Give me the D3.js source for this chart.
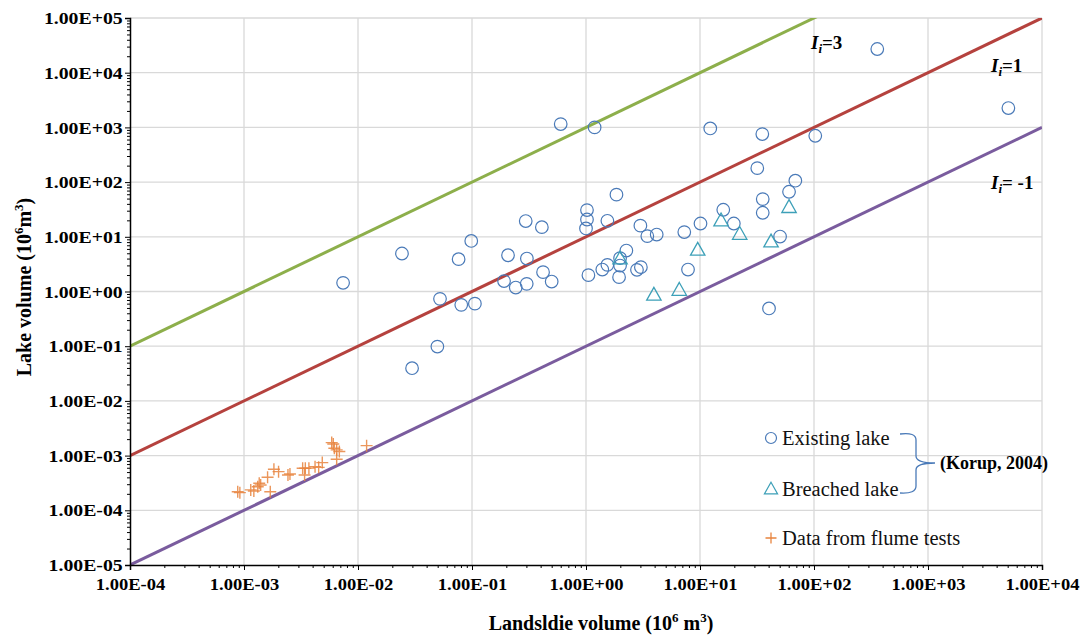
<!DOCTYPE html>
<html>
<head>
<meta charset="utf-8">
<script src="https://cdn.jsdelivr.net/npm/d3@7"></script>
<style>
  html, body { margin: 0; padding: 0; background: #fff; }
  svg { display: block; }
  svg text { font-family: "Liberation Serif", "Times New Roman", serif; }
</style>
</head>
<body>
<svg id="chart" width="1080" height="636"></svg>
<script>
// ---------------- DATA ----------------
// Existing lake (Korup, 2004): [landslide volume, lake volume] in 10^6 m^3
const existingLandslide = [0.0074, 0.0243, 0.0298, 0.0497, 0.0524, 0.0763, 0.0805, 0.0985, 0.106, 0.191,
  0.207, 0.242, 0.296, 0.302, 0.303, 0.41, 0.42, 0.50, 0.60, 1.02,
  1.02, 1.0, 1.05, 1.19, 1.39, 1.54, 1.54, 1.85, 1.95, 1.99,
  1.99, 2.26, 2.80, 3.03, 3.0, 3.45, 4.17, 7.28, 7.85, 10.1,
  12.3, 16.0, 19.8, 31.8, 35.2, 35.5, 35.5, 40.3, 50.4, 60.4,
  68.6, 102.6, 359, 5070];
const existingLake = [1.44, 4.95, 0.0396, 0.0984, 0.734, 3.9, 0.57, 8.4, 0.60, 1.55,
  4.6, 1.18, 19.4, 1.38, 4.0, 15, 2.26, 1.52, 1150, 30.8,
  20.7, 14.2, 1.99, 1000, 2.52, 3.07, 19.6, 59, 1.83, 2.98,
  4.07, 5.6, 2.49, 2.79, 16, 10.3, 11.0, 12.2, 2.52, 17.5,
  957, 31.2, 17.5, 180, 755, 48.9, 27.5, 0.49, 10.1, 66.6,
  106, 703, 27100, 2260];

// Breached lake (Korup, 2004)
const breachedLandslide = [1.99, 3.94, 6.58, 9.55, 15.3, 22.3, 42, 60.4];
const breachedLake = [4.0, 0.87, 1.07, 5.78, 19.9, 11.3, 8.2, 34.9];

// Data from flume tests
const flumeLandslide = [0.000881, 0.00092, 0.001146, 0.00122, 0.00132, 0.00136, 0.0014, 0.0017, 0.00161, 0.00183,
  0.00201, 0.00243, 0.00253, 0.00327, 0.00345, 0.0034, 0.00371, 0.0042, 0.00452, 0.00486,
  0.00588, 0.00607, 0.0062, 0.0065, 0.00686, 0.0065, 0.0119];
const flumeLake = [0.000219, 0.00021, 0.000236, 0.000226, 0.00027, 0.000312, 0.00029, 0.000219, 0.000402, 0.000562,
  0.000509, 0.000443, 0.000461, 0.000587, 0.000587, 0.000443, 0.00059, 0.000628, 0.00061, 0.000745,
  0.00173, 0.00163, 0.00136, 0.00127, 0.00119, 0.000857, 0.00152];

// Index lines: lake = landslide * 10^I
const indexValues = [3, 1, -1];
const indexLabels = ["=3", "=1", "= -1"];
const indexColors = ["#8DAF4B", "#B5423E", "#7A5C9E"];

// Axis ticks
const xTickValues = [1e-4, 1e-3, 1e-2, 1e-1, 1e0, 1e1, 1e2, 1e3, 1e4];
const yTickValues = [1e-5, 1e-4, 1e-3, 1e-2, 1e-1, 1e0, 1e1, 1e2, 1e3, 1e4, 1e5];

const legendLabels = ["Existing lake", "Breached lake", "Data from flume tests"];
const sourceLabel = "(Korup, 2004)";

// ---------------- CHART ----------------
const FONT = "'Liberation Serif', 'Times New Roman', serif";
const svg = d3.select("#chart");
const L = 130, R = 1042, T = 18, B = 565;

const x = d3.scaleLog().domain([1e-4, 1e4]).range([L, R]);
const y = d3.scaleLog().domain([1e-5, 1e5]).range([B, T]);

const fmt = v => {
  const e = Math.round(Math.log10(v));
  return "1.00E" + (e < 0 ? "-" : "+") + String(Math.abs(e)).padStart(2, "0");
};

function minorTicks(domain) {
  const out = [];
  const e0 = Math.round(Math.log10(domain[0])), e1 = Math.round(Math.log10(domain[1]));
  for (let e = e0; e < e1; e++) for (let k = 2; k <= 9; k++) out.push(k * Math.pow(10, e));
  return out;
}

// gridlines
const grid = svg.append("g").attr("stroke", "#D9D9D9").attr("stroke-width", 1.3);
grid.selectAll(".gx").data(xTickValues.slice(1)).join("line")
  .attr("x1", d => x(d)).attr("x2", d => x(d)).attr("y1", T).attr("y2", B);
grid.selectAll(".gy").data(yTickValues.slice(1)).join("line")
  .attr("y1", d => y(d)).attr("y2", d => y(d)).attr("x1", L).attr("x2", R);

// clip
svg.append("clipPath").attr("id", "clip").append("rect")
  .attr("x", L).attr("y", T).attr("width", R - L).attr("height", B - T);

// index lines
const lineGen = d3.line().x(d => x(d[0])).y(d => y(d[1]));
svg.append("g").attr("clip-path", "url(#clip)")
  .selectAll("path").data(indexValues).join("path")
  .attr("d", (v) => lineGen([[1e-4, 1e-4 * Math.pow(10, v)], [1e4, 1e4 * Math.pow(10, v)]]))
  .attr("fill", "none")
  .attr("stroke", (v, i) => indexColors[i])
  .attr("stroke-width", 3);

// axes
const tickFont = g => g.attr("font-family", FONT).selectAll("text")
  .attr("font-family", FONT)
  .attr("font-weight", "bold")
  .attr("font-size", 17.5)
  .attr("fill", "#000");

const yAxis = svg.append("g").attr("transform", `translate(${L},0)`)
  .call(d3.axisLeft(y).tickValues(yTickValues).tickFormat(fmt).tickSize(5).tickPadding(1.5));
yAxis.call(tickFont);
yAxis.selectAll("text").attr("transform", "scale(1.13,1)");
svg.append("g").attr("transform", `translate(${L},0)`)
  .call(d3.axisLeft(y).tickValues(minorTicks(y.domain())).tickFormat("").tickSize(3))
  .call(g => g.select(".domain").remove());

const xAxis = svg.append("g").attr("transform", `translate(0,${B})`)
  .call(d3.axisBottom(x).tickValues(xTickValues).tickFormat(fmt).tickSize(5).tickPadding(8));
xAxis.call(tickFont);
xAxis.selectAll("text").attr("transform", "scale(1.06,1)");
svg.append("g").attr("transform", `translate(0,${B})`)
  .call(d3.axisBottom(x).tickValues(minorTicks(x.domain())).tickFormat("").tickSize(3))
  .call(g => g.select(".domain").remove());

svg.selectAll(".domain").attr("stroke", "#000").attr("stroke-width", 1.5);
svg.selectAll(".tick line").attr("stroke", "#000").attr("stroke-width", 1);

// data
const existing = existingLandslide.map((v, i) => [v, existingLake[i]]);
const breached = breachedLandslide.map((v, i) => [v, breachedLake[i]]);
const flume = flumeLandslide.map((v, i) => [v, flumeLake[i]]);

const circleColor = "#4A7AB8", triColor = "#3DA0B8", plusColor = "#E8843E";
const triPath = s => `M0,${-s * 0.62}L${s * 0.6},${s * 0.45}L${-s * 0.6},${s * 0.45}Z`;
const plusPath = s => `M${-s},0H${s}M0,${-s}V${s}`;

svg.append("g").selectAll("circle").data(existing).join("circle")
  .attr("cx", d => x(d[0])).attr("cy", d => y(d[1])).attr("r", 6.3)
  .attr("fill", "none").attr("stroke", circleColor).attr("stroke-width", 1.2);

svg.append("g").selectAll("path").data(breached).join("path")
  .attr("transform", d => `translate(${x(d[0])},${y(d[1])})`)
  .attr("d", triPath(12))
  .attr("fill", "none").attr("stroke", triColor).attr("stroke-width", 1.3);

svg.append("g").selectAll("path").data(flume).join("path")
  .attr("transform", d => `translate(${x(d[0])},${y(d[1])})`)
  .attr("d", plusPath(6))
  .attr("fill", "none").attr("stroke", plusColor).attr("stroke-width", 1.4).attr("opacity", 0.85);

// index labels
const labelX = [811, 991, 991];
const labelY = [49, 72, 189];
indexValues.forEach((v, i) => {
  const t = svg.append("text").attr("x", labelX[i]).attr("y", labelY[i])
    .attr("font-family", FONT)
    .attr("font-weight", "bold").attr("font-size", 19).attr("fill", "#000");
  t.append("tspan").attr("font-style", "italic").text("I");
  t.append("tspan").attr("font-style", "italic").attr("font-size", 13).attr("dy", 4).text("i");
  t.append("tspan").attr("dy", -4).text(indexLabels[i]);
});

// legend
const lg = svg.append("g");
const legY = [438, 489, 538];
lg.append("circle").attr("cx", 771).attr("cy", legY[0]).attr("r", 5.5)
  .attr("fill", "none").attr("stroke", circleColor).attr("stroke-width", 1.2);
lg.append("path").attr("transform", `translate(771,${legY[1]})`).attr("d", triPath(11))
  .attr("fill", "none").attr("stroke", triColor).attr("stroke-width", 1.2);
lg.append("path").attr("transform", `translate(771,${legY[2]})`).attr("d", plusPath(5.5))
  .attr("fill", "none").attr("stroke", plusColor).attr("stroke-width", 1.3);
legendLabels.forEach((s, i) => {
  lg.append("text").attr("x", 782).attr("y", legY[i] + 7)
    .attr("font-family", FONT)
    .attr("font-size", 20.5).attr("fill", "#111").text(s);
});
// brace
lg.append("path")
  .attr("d", "M900,434 Q916,432 916,440 L916,456 Q916,463 935,463 M916,470 L916,486 Q916,494 900,493 M935,463 Q916,463 916,470")
  .attr("fill", "none").attr("stroke", circleColor).attr("stroke-width", 1.3);
lg.append("text").attr("x", 940).attr("y", 469)
  .attr("font-family", FONT)
  .attr("font-size", 18).attr("font-weight", "bold").attr("fill", "#000").text(sourceLabel);

// axis titles
const xt = svg.append("text").attr("x", 601).attr("y", 630).attr("text-anchor", "middle")
  .attr("font-family", FONT)
  .attr("font-size", 20).attr("font-weight", "bold").attr("fill", "#000");
xt.append("tspan").text("Landsldie volume (10");
xt.append("tspan").attr("font-size", 13).attr("dy", -8).text("6");
xt.append("tspan").attr("dy", 8).text(" m");
xt.append("tspan").attr("font-size", 13).attr("dy", -8).text("3");
xt.append("tspan").attr("dy", 8).text(")");

const yt = svg.append("text").attr("transform", "translate(31,287) rotate(-90)").attr("text-anchor", "middle")
  .attr("font-family", FONT)
  .attr("font-size", 20).attr("font-weight", "bold").attr("fill", "#000");
yt.append("tspan").text("Lake volume (10");
yt.append("tspan").attr("font-size", 13).attr("dy", -8).text("6");
yt.append("tspan").attr("dy", 8).text("m");
yt.append("tspan").attr("font-size", 13).attr("dy", -8).text("3");
yt.append("tspan").attr("dy", 8).text(")");
</script>
</body>
</html>
